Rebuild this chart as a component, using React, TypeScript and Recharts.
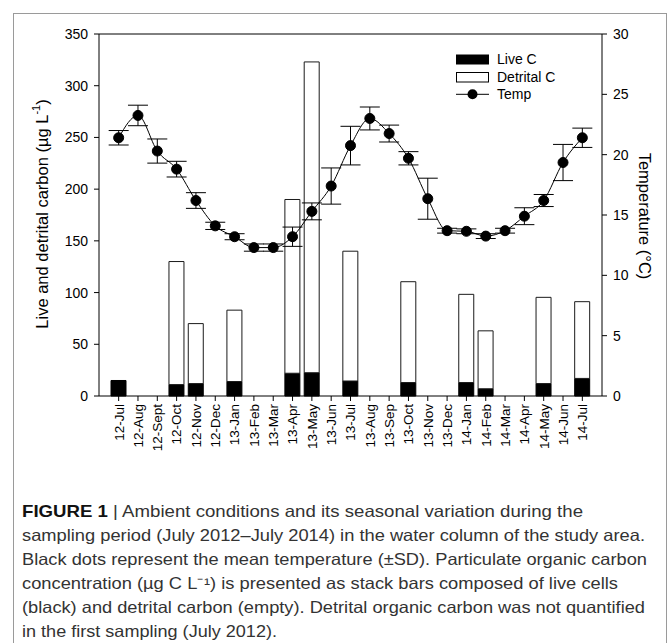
import React from 'react';
import { ComposedChart, Bar, Line, XAxis, YAxis, ErrorBar, ReferenceLine, Legend } from 'recharts';

// sampling months, July 2012 - July 2014
const months = [
  '12-Jul', '12-Aug', '12-Sept', '12-Oct', '12-Nov', '12-Dec',
  '13-Jan', '13-Feb', '13-Mar', '13-Apr', '13-May', '13-Jun',
  '13-Jul', '13-Aug', '13-Sep', '13-Oct', '13-Nov', '13-Dec',
  '14-Jan', '14-Feb', '14-Mar', '14-Apr', '14-May', '14-Jun', '14-Jul',
];

// carbon, ug L-1 (0 = not sampled)
const liveC = [15, 0, 0, 11, 12, 0, 14, 0, 0, 22, 22.5, 0, 14.5, 0, 0, 13, 0, 0, 13, 7, 0, 0, 12, 0, 17];
const detritalC = [0, 0, 0, 119, 58, 0, 69, 0, 0, 168, 300.5, 0, 125.5, 0, 0, 97.5, 0, 0, 85.3, 56, 0, 0, 83.4, 0, 74.2];

// temperature, deg C, mean and SD
const tempMean = [21.4, 23.25, 20.3, 18.8, 16.2, 14.1, 13.2, 12.3, 12.3, 13.2, 15.3, 17.4, 20.75, 23.0, 21.75, 19.7, 16.35, 13.7, 13.65, 13.25, 13.7, 14.9, 16.2, 19.35, 21.4];
const tempSd = [0.6, 0.85, 1.0, 0.65, 0.65, 0.3, 0.25, 0.3, 0.3, 0.8, 0.7, 1.5, 1.6, 0.95, 0.7, 0.55, 1.7, 0.2, 0.2, 0.2, 0.2, 0.7, 0.5, 1.5, 0.8];

const carbonTicks = [0, 50, 100, 150, 200, 250, 300, 350];
const tempTicks = [0, 5, 10, 15, 20, 25, 30];

const captionLines = [
  'sampling period (July 2012\u2013July 2014) in the water column of the study area.',
  'Black dots represent the mean temperature (\u00b1SD). Particulate organic carbon',
  'concentration (\u00b5g C L\u207b\u00b9) is presented as stack bars composed of live cells',
  '(black) and detrital carbon (empty). Detrital organic carbon was not quantified',
  'in the first sampling (July 2012).',
];
const captionWidths = [623, 625, 596, 623, 255];

const chartData = months.map((m, i) => ({
  month: m,
  live: liveC[i],
  detrital: detritalC[i],
  temp: tempMean[i],
  tempSd: tempSd[i],
}));

const FONT = '"Liberation Sans", Arial, sans-serif';

const MonthTick = (props: any) => {
  const { x, y, payload } = props;
  return (
    <text x={x} y={y} transform={`rotate(-90 ${x} ${y})`} textAnchor="end" dy="0.36em"
      fontSize={13.5} fontFamily={FONT} fill="#000">
      {payload.value}
    </text>
  );
};

const LegendBox = () => (
  <svg width={150} height={60} style={{ display: 'block' }}>
    <rect x={1} y={4.5} width={33} height={10} fill="#000" />
    <rect x={1.5} y={22.5} width={32} height={9.5} fill="#fff" stroke="#000" strokeWidth={1} />
    <line x1={1} x2={34} y1={44.3} y2={44.3} stroke="#000" strokeWidth={1} />
    <circle cx={17.5} cy={44.3} r={5} fill="#000" />
    <g fontSize={14} fontFamily={FONT} fill="#000" dominantBaseline="central">
      <text x={42} y={9}>Live C</text>
      <text x={42} y={26.7}>Detrital C</text>
      <text x={42} y={44.3}>Temp</text>
    </g>
  </svg>
);

export default function App() {
  return (
    <div style={{ position: 'absolute', left: 0, top: 0, width: 668, height: 643, overflow: 'hidden', background: '#fff' }}>
      <div style={{ position: 'absolute', left: 13, top: 13, width: 652, height: 640, border: '1px solid #9a9a9a', borderBottom: 'none' }} />
      <div style={{ position: 'absolute', left: 0, top: 0 }}>
        <ComposedChart width={668} height={470} data={chartData} margin={{ top: 34, right: 0, bottom: 0, left: 0 }}>
          <XAxis dataKey="month" height={74} padding={{ left: 10, right: 10 }} interval={0}
            tickSize={5} tickMargin={3} axisLine={{ stroke: '#000' }} tickLine={{ stroke: '#000' }}
            tick={<MonthTick />} />
          <YAxis yAxisId="left" orientation="left" width={99} domain={[0, 350]} ticks={carbonTicks} interval={0}
            tickSize={5} tickMargin={6} axisLine={{ stroke: '#000' }} tickLine={{ stroke: '#000' }}
            tick={{ fill: '#000', fontSize: 14, fontFamily: FONT }}
            label={{
              content: () => (
                <text x={42} y={214} transform="rotate(-90 42 214)" textAnchor="middle" dominantBaseline="central"
                  fontSize={16.5} fontFamily={FONT} fill="#000">
                  Live and detrital carbon (µg L<tspan dy={-6} fontSize={11}>-1</tspan><tspan dy={6}>)</tspan>
                </text>
              ),
            }} />
          <YAxis yAxisId="right" orientation="right" width={66} domain={[0, 30]} ticks={tempTicks} interval={0}
            tickSize={5} tickMargin={6} axisLine={{ stroke: '#000' }} tickLine={{ stroke: '#000' }}
            tick={{ fill: '#000', fontSize: 14, fontFamily: FONT }}
            label={{
              content: () => (
                <text x={645} y={216} transform="rotate(90 645 216)" textAnchor="middle" dominantBaseline="central"
                  fontSize={16.5} fontFamily={FONT} fill="#000">
                  Temperature (°C)
                </text>
              ),
            }} />
          <ReferenceLine yAxisId="left" y={350} stroke="#000" strokeWidth={1} />
          <Legend verticalAlign="middle" align="center" layout="horizontal"
            wrapperStyle={{ left: 455, top: 50, width: 150, height: 60 }} content={<LegendBox />} />
          <Bar yAxisId="left" dataKey="live" name="Live C" stackId="c" fill="#000" stroke="#000" strokeWidth={1}
            barSize={15} isAnimationActive={false} />
          <Bar yAxisId="left" dataKey="detrital" name="Detrital C" stackId="c" fill="#fff" stroke="#1a1a1a" strokeWidth={1}
            barSize={15} isAnimationActive={false} />
          <Line yAxisId="right" dataKey="temp" name="Temp" type="monotone" stroke="#000" strokeWidth={1}
            dot={{ r: 5, fill: '#000', stroke: '#000', strokeWidth: 1 }} activeDot={false} isAnimationActive={false}>
            <ErrorBar dataKey="tempSd" width={10} stroke="#000" strokeWidth={1} />
          </Line>
        </ComposedChart>
      </div>
      <svg width={668} height={643} style={{ position: 'absolute', left: 0, top: 0, pointerEvents: 'none' }}>
        <g fontFamily={FONT} fontSize={16.5} fill="#333">
          <text x={22} y={517} textLength={561} lengthAdjust="spacingAndGlyphs">
            <tspan fontWeight="bold" fill="#111">FIGURE 1</tspan><tspan> | Ambient conditions and its seasonal variation during the</tspan>
          </text>
          {captionLines.map((t, i) => (
            <text key={i} x={22} y={541 + i * 24} textLength={captionWidths[i]} lengthAdjust="spacingAndGlyphs">{t}</text>
          ))}
        </g>
      </svg>
    </div>
  );
}
